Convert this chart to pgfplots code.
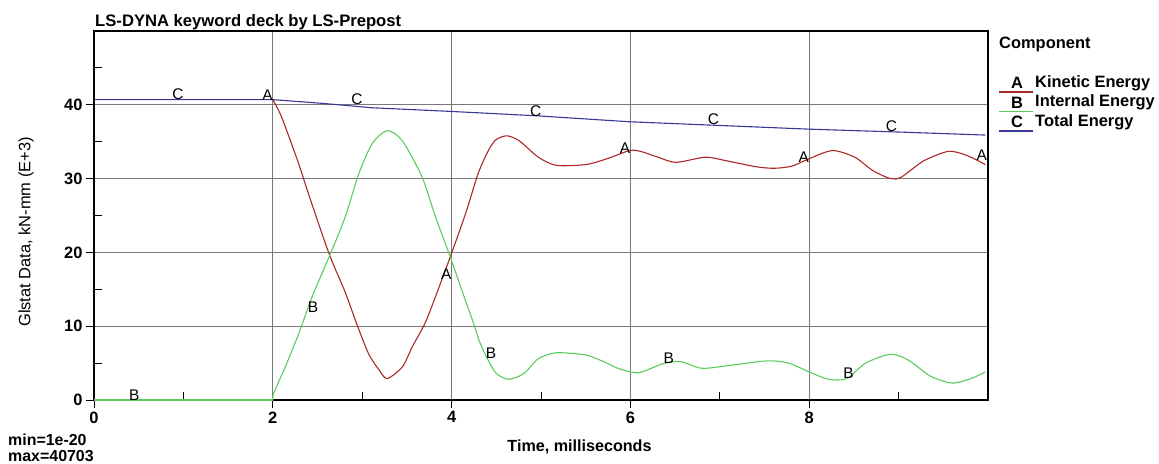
\documentclass[border=0pt]{standalone}
\usepackage{fontspec}
\setmainfont{Liberation Sans}
\usepackage{pgfplots}
\pgfplotsset{compat=1.18}
\definecolor{kered}{RGB}{170,40,40}
\definecolor{ingreen}{RGB}{90,205,90}
\definecolor{toblue}{RGB}{55,55,150}
\definecolor{gridgray}{RGB}{120,120,120}
\begin{document}
\begin{tikzpicture}
\begin{axis}[
  at={(94bp,-400bp)}, anchor=south west,
  scale only axis, width=894bp, height=369bp,
  xmin=0, xmax=10, ymin=0, ymax=50,
  xtick={0,2,4,6,8}, minor xtick={1,3,5,7,9},
  ytick={0,10,20,30,40}, minor ytick={5,15,25,35,45},
  tick pos=left,
  tick align=outside, major tick length=8bp, minor tick length=-8bp,
  tick style={black, line width=1bp},
  grid=major, major grid style={gridgray, line width=1.2bp},
  axis line style={black, line width=1.3bp},
  tick label style={font=\fontsize{16.5}{16.5}\selectfont\bfseries},
  /pgf/number format/assume math mode=true,
]
\addplot[kered, line width=1.1bp] coordinates {(0,40.7) (2.0,40.7)};
\addplot[kered, line width=1.1bp, smooth, tension=0.45] coordinates {
(2.0,40.7) (2.10,38.3) (2.29,32.0) (2.40,27.9) (2.63,19.8) (2.81,14.6)
(2.93,10.6) (3.07,6.3) (3.19,4.05) (3.28,2.9) (3.45,4.5) (3.56,7.2) (3.71,10.6)
(3.86,15.3) (4.0,19.9) (4.16,25.4) (4.30,30.8) (4.42,34.0) (4.50,35.3) (4.62,35.8)
(4.76,35.1) (4.97,32.9) (5.17,31.8) (5.50,31.9) (5.74,32.7) (5.99,33.8) (6.11,33.7)
(6.31,32.9) (6.51,32.2) (6.84,32.9) (7.08,32.4) (7.41,31.6) (7.61,31.4) (7.81,31.7)
(8.0,32.7) (8.26,33.8) (8.51,32.9) (8.71,31.1) (8.91,30.0) (9.03,30.2) (9.28,32.4)
(9.56,33.7) (9.77,33.1) (9.97,31.9)
};
\addplot[ingreen, line width=1.1bp] coordinates {(0,0) (2.0,0)};
\addplot[ingreen, line width=1.1bp, smooth, tension=0.45] coordinates {
(2.0,0) (2.01,0.9) (2.14,4.5) (2.29,9.0) (2.44,14.0) (2.63,19.4) (2.81,24.8)
(2.96,30.6) (3.11,34.7) (3.28,36.5) (3.45,35.1) (3.67,30.2) (3.82,24.8) (3.97,19.9)
(4.16,13.3) (4.24,10.6) (4.31,8.0) (4.40,5.6) (4.50,3.6) (4.64,2.8) (4.81,3.6)
(4.97,5.6) (5.17,6.4) (5.50,6.1) (5.70,5.2) (5.86,4.3) (6.09,3.7) (6.36,4.9)
(6.56,5.2) (6.80,4.3) (7.12,4.7) (7.53,5.3) (7.77,5.0) (8.0,3.8) (8.22,2.8)
(8.42,2.9) (8.63,5.0) (8.91,6.2) (9.11,5.4) (9.36,3.2) (9.60,2.3) (9.81,2.9) (9.97,3.8)
};
\addplot[toblue, line width=1.1bp] coordinates {
(0,40.7) (2.0,40.7) (2.55,40.2) (3.11,39.6) (4.0,39.1) (4.97,38.5) (5.99,37.7)
(7.0,37.2) (8.0,36.7) (9.03,36.3) (9.97,35.9)
};
\addplot[draw=none, mark=none, nodes near coords, point meta=explicit symbolic,
  nodes near coords style={anchor=center, inner sep=0pt, text=black, font=\fontsize{15.5}{15.5}\selectfont}]
coordinates {
(0.94,41.4) [C] (2.94,40.8) [C] (4.94,39.2) [C] (6.93,38.1) [C] (8.92,37.1) [C]
(1.94,41.3) [A] (3.94,17.1) [A] (5.94,34.1) [A] (7.94,32.9) [A] (9.93,33.2) [A]
(0.45,0.7) [B] (2.45,12.6) [B] (4.44,6.3) [B] (6.43,5.6) [B] (8.44,3.7) [B]
};
\end{axis}
\node[anchor=base west, inner sep=0pt, font=\fontsize{16.7}{18}\selectfont\bfseries] at (95bp,-26bp) {LS-DYNA keyword deck by LS-Prepost};
\node[inner sep=0pt, font=\fontsize{16.2}{18}\selectfont\bfseries] at (579.5bp,-447bp) {Time, milliseconds};
\node[rotate=90, inner sep=0pt, font=\fontsize{16.5}{18}\selectfont] at (26bp,-232bp) {Glstat Data, kN-mm (E+3)};
\node[anchor=west, inner sep=0pt, font=\fontsize{16}{17}\selectfont\bfseries] at (8bp,-440bp) {min=1e-20};
\node[anchor=west, inner sep=0pt, font=\fontsize{16}{17}\selectfont\bfseries] at (8bp,-456bp) {max=40703};
% legend
\node[anchor=west, inner sep=0pt, font=\fontsize{16.5}{18}\selectfont\bfseries] at (999bp,-44bp) {Component};
\foreach \r/\l/\t/\c in {0/A/Kinetic Energy/kered, 1/B/Internal Energy/ingreen, 2/C/Total Energy/toblue}{
  \pgfmathsetmacro{\yy}{-83-19.5*\r}
  \node[inner sep=0pt, font=\fontsize{16.5}{18}\selectfont\bfseries] at (1017bp,\yy bp) {\l};
  \draw[\c, line width=1.1bp] (999bp,\yy bp-9bp) -- (1033bp,\yy bp-9bp);
  \node[anchor=west, inner sep=0pt, font=\fontsize{16.5}{18}\selectfont\bfseries] at (1035bp,\yy bp) {\t};
}
\pgfresetboundingbox
\path[use as bounding box] (0,0) rectangle (1159bp,-464bp);
\end{tikzpicture}
\end{document}
